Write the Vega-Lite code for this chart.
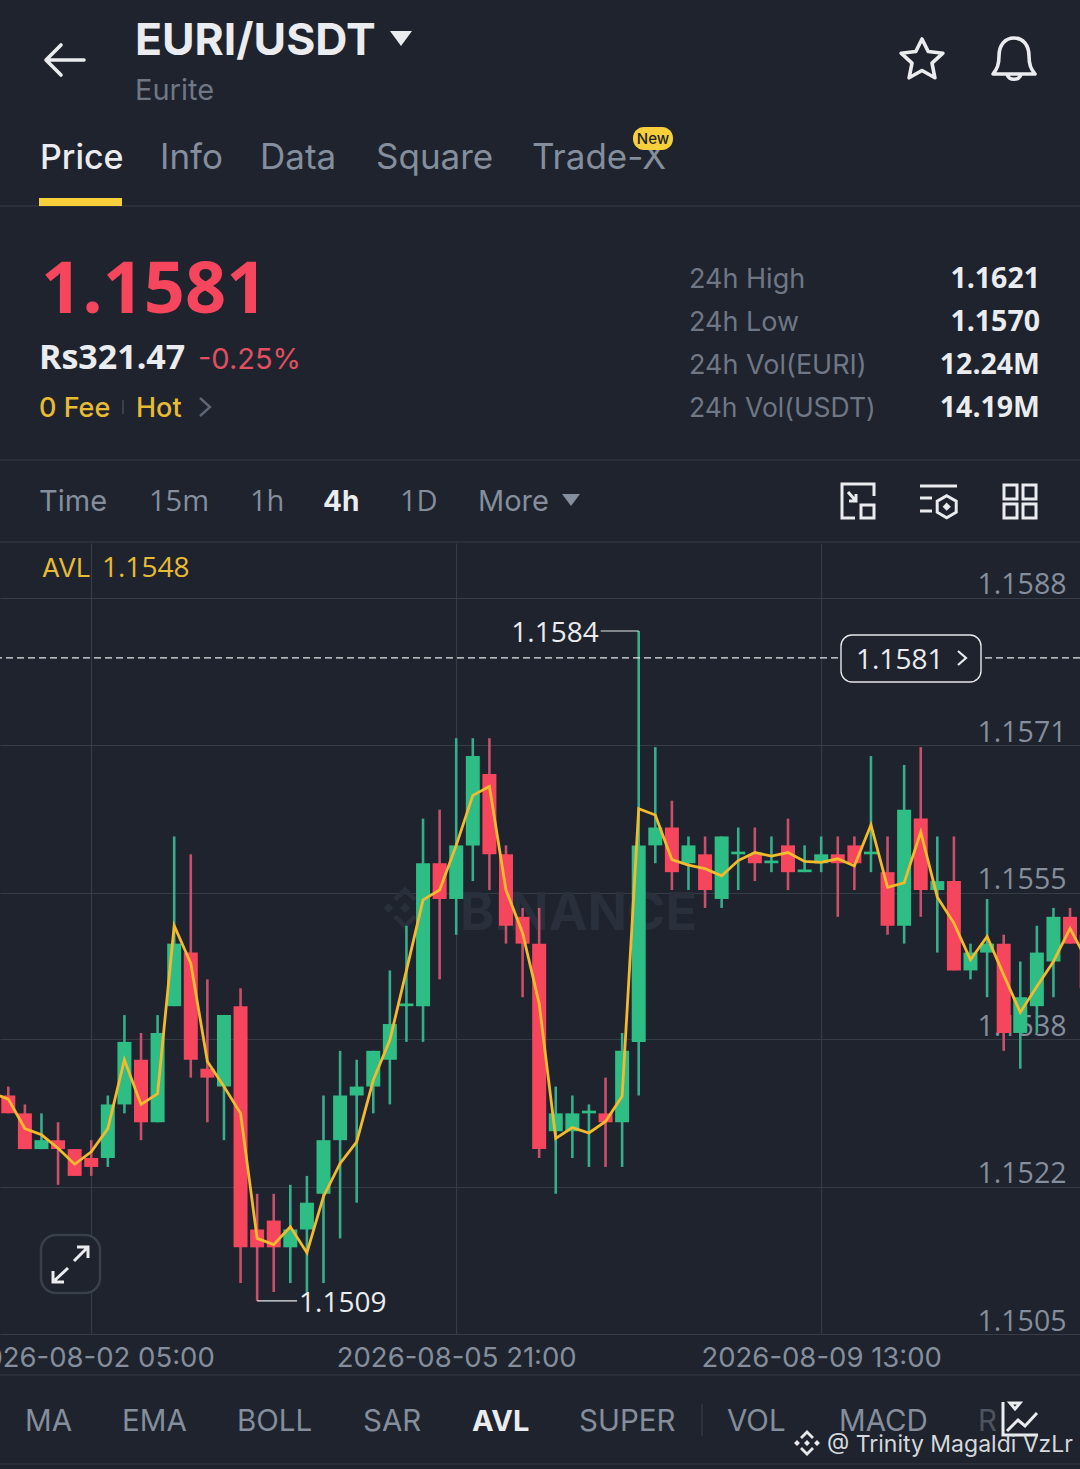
{
"$schema": "https://vega.github.io/schema/vega-lite/v6.json",
"width": 1080,
"height": 791,
"autosize": {"type": "none"},
"padding": {"top": 543, "left": 0, "right": 0, "bottom": 135},
"background": "#1e232d",
"config": {
  "view": {"stroke": null},
  "font": "Inter",
  "text": {"font": "Inter", "baseline": "alphabetic", "align": "left"}
},
"datasets": {
"candles": [
{"t":"2026-08-01T05:00","open":1.1533,"high":1.1534,"low":1.1532,"close":1.1532,"avl":1.15323},
{"t":"2026-08-01T09:00","open":1.1532,"high":1.1533,"low":1.1530,"close":1.1530,"avl":1.15316},
{"t":"2026-08-01T13:00","open":1.1530,"high":1.1531,"low":1.1526,"close":1.1526,"avl":1.15283},
{"t":"2026-08-01T17:00","open":1.1526,"high":1.1530,"low":1.1526,"close":1.1527,"avl":1.15276},
{"t":"2026-08-01T21:00","open":1.1527,"high":1.1529,"low":1.1522,"close":1.1526,"avl":1.15261},
{"t":"2026-08-02T01:00","open":1.1526,"high":1.1526,"low":1.1523,"close":1.1523,"avl":1.15243},
{"t":"2026-08-02T05:00","open":1.1525,"high":1.1527,"low":1.1523,"close":1.1524,"avl":1.15257},
{"t":"2026-08-02T09:00","open":1.1525,"high":1.1532,"low":1.1524,"close":1.1531,"avl":1.15283},
{"t":"2026-08-02T13:00","open":1.1531,"high":1.1541,"low":1.1530,"close":1.1538,"avl":1.15360},
{"t":"2026-08-02T17:00","open":1.1536,"high":1.1539,"low":1.1527,"close":1.1529,"avl":1.15310},
{"t":"2026-08-02T21:00","open":1.1529,"high":1.1541,"low":1.1529,"close":1.1539,"avl":1.15322},
{"t":"2026-08-03T01:00","open":1.1542,"high":1.1561,"low":1.1542,"close":1.1549,"avl":1.15510},
{"t":"2026-08-03T05:00","open":1.1548,"high":1.1559,"low":1.1534,"close":1.1536,"avl":1.15468},
{"t":"2026-08-03T09:00","open":1.1535,"high":1.1545,"low":1.1529,"close":1.1534,"avl":1.15358},
{"t":"2026-08-03T13:00","open":1.1533,"high":1.1541,"low":1.1527,"close":1.1541,"avl":1.15330},
{"t":"2026-08-03T17:00","open":1.1542,"high":1.1544,"low":1.1511,"close":1.1515,"avl":1.15300},
{"t":"2026-08-03T21:00","open":1.1517,"high":1.1521,"low":1.1509,"close":1.1515,"avl":1.15160},
{"t":"2026-08-04T01:00","open":1.1518,"high":1.1521,"low":1.1510,"close":1.1515,"avl":1.15153},
{"t":"2026-08-04T05:00","open":1.1515,"high":1.1522,"low":1.1511,"close":1.1517,"avl":1.15173},
{"t":"2026-08-04T09:00","open":1.1517,"high":1.1523,"low":1.1510,"close":1.1520,"avl":1.15144},
{"t":"2026-08-04T13:00","open":1.1521,"high":1.1532,"low":1.1511,"close":1.1527,"avl":1.15207},
{"t":"2026-08-04T17:00","open":1.1527,"high":1.1537,"low":1.1516,"close":1.1532,"avl":1.15244},
{"t":"2026-08-04T21:00","open":1.1532,"high":1.1536,"low":1.1520,"close":1.1533,"avl":1.15268},
{"t":"2026-08-05T01:00","open":1.1533,"high":1.1537,"low":1.1530,"close":1.1537,"avl":1.15337},
{"t":"2026-08-05T05:00","open":1.1536,"high":1.1546,"low":1.1531,"close":1.1540,"avl":1.15382},
{"t":"2026-08-05T09:00","open":1.1542,"high":1.1551,"low":1.1538,"close":1.15423,"avl":1.15460},
{"t":"2026-08-05T13:00","open":1.1542,"high":1.1563,"low":1.1538,"close":1.1558,"avl":1.15539},
{"t":"2026-08-05T17:00","open":1.1558,"high":1.1564,"low":1.1545,"close":1.1554,"avl":1.15550},
{"t":"2026-08-05T21:00","open":1.1554,"high":1.1572,"low":1.1550,"close":1.1560,"avl":1.15600},
{"t":"2026-08-06T01:00","open":1.1560,"high":1.1572,"low":1.1556,"close":1.1570,"avl":1.15656},
{"t":"2026-08-06T05:00","open":1.1568,"high":1.1572,"low":1.1555,"close":1.1559,"avl":1.15666},
{"t":"2026-08-06T09:00","open":1.1559,"high":1.1560,"low":1.1549,"close":1.1551,"avl":1.15550},
{"t":"2026-08-06T13:00","open":1.1552,"high":1.1553,"low":1.1543,"close":1.1549,"avl":1.15502},
{"t":"2026-08-06T17:00","open":1.1549,"high":1.1553,"low":1.1525,"close":1.1526,"avl":1.15423},
{"t":"2026-08-06T21:00","open":1.1528,"high":1.1533,"low":1.1521,"close":1.1530,"avl":1.15272},
{"t":"2026-08-07T01:00","open":1.1528,"high":1.1532,"low":1.1525,"close":1.1530,"avl":1.15284},
{"t":"2026-08-07T05:00","open":1.1530,"high":1.1531,"low":1.1524,"close":1.15303,"avl":1.15278},
{"t":"2026-08-07T09:00","open":1.1530,"high":1.1534,"low":1.1524,"close":1.1529,"avl":1.15291},
{"t":"2026-08-07T13:00","open":1.1529,"high":1.1539,"low":1.1524,"close":1.1537,"avl":1.15319},
{"t":"2026-08-07T17:00","open":1.1538,"high":1.1584,"low":1.1532,"close":1.1560,"avl":1.15641},
{"t":"2026-08-07T21:00","open":1.1560,"high":1.1571,"low":1.1558,"close":1.1562,"avl":1.15634},
{"t":"2026-08-08T01:00","open":1.1562,"high":1.1565,"low":1.1555,"close":1.1557,"avl":1.15584},
{"t":"2026-08-08T05:00","open":1.1558,"high":1.1561,"low":1.1555,"close":1.1560,"avl":1.15578},
{"t":"2026-08-08T09:00","open":1.1559,"high":1.1561,"low":1.1553,"close":1.1555,"avl":1.15574},
{"t":"2026-08-08T13:00","open":1.1554,"high":1.1561,"low":1.1553,"close":1.1561,"avl":1.15566},
{"t":"2026-08-08T17:00","open":1.1559,"high":1.1562,"low":1.1555,"close":1.15593,"avl":1.15583},
{"t":"2026-08-08T21:00","open":1.1559,"high":1.1562,"low":1.1556,"close":1.1558,"avl":1.15592},
{"t":"2026-08-09T01:00","open":1.1558,"high":1.1561,"low":1.1557,"close":1.15583,"avl":1.15588},
{"t":"2026-08-09T05:00","open":1.1560,"high":1.1563,"low":1.1555,"close":1.1557,"avl":1.15592},
{"t":"2026-08-09T09:00","open":1.1557,"high":1.1560,"low":1.1557,"close":1.15573,"avl":1.15582},
{"t":"2026-08-09T13:00","open":1.1558,"high":1.1561,"low":1.1557,"close":1.1559,"avl":1.15581},
{"t":"2026-08-09T17:00","open":1.1559,"high":1.1561,"low":1.1552,"close":1.1558,"avl":1.15585},
{"t":"2026-08-09T21:00","open":1.1560,"high":1.1561,"low":1.1555,"close":1.1558,"avl":1.15577},
{"t":"2026-08-10T01:00","open":1.1559,"high":1.1570,"low":1.1557,"close":1.15593,"avl":1.15623},
{"t":"2026-08-10T05:00","open":1.1557,"high":1.1561,"low":1.1550,"close":1.1551,"avl":1.15553},
{"t":"2026-08-10T09:00","open":1.1551,"high":1.1569,"low":1.1549,"close":1.1564,"avl":1.15558},
{"t":"2026-08-10T13:00","open":1.1563,"high":1.1571,"low":1.1552,"close":1.1555,"avl":1.15615},
{"t":"2026-08-10T17:00","open":1.1555,"high":1.1561,"low":1.1548,"close":1.1556,"avl":1.15542},
{"t":"2026-08-10T21:00","open":1.1556,"high":1.1561,"low":1.1546,"close":1.1546,"avl":1.15513},
{"t":"2026-08-11T01:00","open":1.1546,"high":1.1549,"low":1.1545,"close":1.1548,"avl":1.15472},
{"t":"2026-08-11T05:00","open":1.1548,"high":1.1554,"low":1.1543,"close":1.1549,"avl":1.15498},
{"t":"2026-08-11T09:00","open":1.1549,"high":1.1550,"low":1.1537,"close":1.1539,"avl":1.15455},
{"t":"2026-08-11T13:00","open":1.1539,"high":1.1547,"low":1.1535,"close":1.1543,"avl":1.15413},
{"t":"2026-08-11T17:00","open":1.1542,"high":1.1551,"low":1.1539,"close":1.1548,"avl":1.15442},
{"t":"2026-08-11T21:00","open":1.1547,"high":1.1553,"low":1.1543,"close":1.1552,"avl":1.15470},
{"t":"2026-08-12T01:00","open":1.1552,"high":1.1553,"low":1.1549,"close":1.1549,"avl":1.15507},
{"t":"2026-08-12T05:00","open":1.1550,"high":1.1551,"low":1.1544,"close":1.1544,"avl":1.15472}
],
"marks": [
{"t":"2026-08-07T17:00","t2":"2026-08-07T07:50","price":1.1584,"label":"1.1584"},
{"t":"2026-08-03T21:00","t2":"2026-08-04T06:38","price":1.1509,"label":"1.1509"}
]
},
"data": {"name": "candles"},
"layer": [
{"data":{"values":[{"label":"BINANCE"}]},"mark":{"type":"text","x":460,"y":387,"fontSize":52,"fontWeight":700,"color":"#2a303b"},"encoding":{"text":{"field":"label"}}},
{"data":{"values":[{"icon":"logo"}]},"mark":{"type":"point","x":405,"y":365,"size":11,"filled":true,"fill":"#2a303b","opacity":1,"strokeWidth":0,"shape":"M0,-3L3,0L0,3L-3,0ZM-7,-6L0,-13L7,-6L5,-4L0,-9L-5,-4ZM-7,6L0,13L7,6L5,4L0,9L-5,4ZM-13,0L-10,-3L-7,0L-10,3ZM13,0L10,-3L7,0L10,3Z"},"encoding":{}},
{
  "mark": {"type": "rule", "strokeWidth": 2.6},
  "encoding": {
    "x": {"field": "t", "type": "temporal", "title": null,
      "scale": {"domain": [{"year":2026,"month":8,"date":1,"hours":7},{"year":2026,"month":8,"date":12,"hours":3,"minutes":24}], "nice": false, "padding": 0},
      "axis": {
        "values": [{"year":2026,"month":8,"date":2,"hours":5},{"year":2026,"month":8,"date":5,"hours":21},{"year":2026,"month":8,"date":9,"hours":13}],
        "format": "%Y-%m-%d %H:%M", "grid": true, "gridColor": "#363c46", "gridWidth": 1.2, "domain": false, "ticks": false,
        "labelColor": "#848e9c", "labelFontSize": 27.5, "labelFont": "Inter", "labelPadding": 10, "labelLimit": 400, "labelBound": false, "labelFlush": false, "labelOverlap": false
      }
    },
    "y": {"field": "low", "type": "quantitative", "title": null,
      "scale": {"domain": [1.15053, 1.159385], "nice": false, "zero": false, "padding": 0},
      "axis": {
        "orient": "right", "values": [1.15053, 1.15218, 1.15383, 1.15547, 1.15712, 1.15877], "format": ".4f",
        "grid": true, "gridColor": "#363c46", "gridWidth": 1.2, "domain": false, "ticks": false,
        "labelColor": "#848e9c", "labelFontSize": 28.5, "labelFont": "Open Sans", "labelAlign": "right", "labelPadding": -14, "labelOffset": -13, "labelBound": false, "labelFlush": false, "labelOverlap": false
      }
    },
    "y2": {"field": "high"},
    "color": {"condition": {"test": "datum.close >= datum.open", "value": "#37ad8b"}, "value": "#c9506a"}
  }
},
{
  "mark": {"type": "bar", "size": 14},
  "encoding": {
    "x": {"field": "t", "type": "temporal"},
    "y": {"field": "open", "type": "quantitative"},
    "y2": {"field": "close"},
    "color": {"condition": {"test": "datum.close >= datum.open", "value": "#2ebd85"}, "value": "#f6465d"}
  }
},
{
  "mark": {"type": "line", "color": "#f2ba2c", "strokeWidth": 2.8, "strokeJoin": "miter"},
  "encoding": {
    "x": {"field": "t", "type": "temporal"},
    "y": {"field": "avl", "type": "quantitative"}
  }
},
{"data":{"values":[{"price":1.1581}]},"mark":{"type":"rule","color":"#e6e8ea","strokeWidth":1.2,"strokeDash":[7,4]},"encoding":{"y":{"field":"price","type":"quantitative"}}},
{"data":{"name":"marks"},"mark":{"type":"rule","color":"#e6e8ea","strokeWidth":1.2},"encoding":{"x":{"field":"t","type":"temporal"},"x2":{"field":"t2"},"y":{"field":"price","type":"quantitative"}}},
{"data":{"name":"marks"},"transform":[{"filter":"datum.price > 1.155"}],"mark":{"type":"text","font":"Open Sans","align":"right","baseline":"middle","fontSize":28,"color":"#eaecef","dx":-2,"dy":3},"encoding":{"x":{"field":"t2","type":"temporal"},"y":{"field":"price","type":"quantitative"},"text":{"field":"label"}}},
{"data":{"name":"marks"},"transform":[{"filter":"datum.price < 1.155"}],"mark":{"type":"text","font":"Open Sans","align":"left","baseline":"middle","fontSize":28,"color":"#eaecef","dx":2,"dy":3},"encoding":{"x":{"field":"t2","type":"temporal"},"y":{"field":"price","type":"quantitative"},"text":{"field":"label"}}},
{"data":{"values":[{"kind":"pill"}]},"mark":{"type":"rect","x":841,"x2":981,"y":92,"y2":139,"fill":"#1e232d","stroke":"#e6e8ea","strokeWidth":1.4,"cornerRadius":11},"encoding":{}},
{"data":{"values":[{"label":"1.1581"}]},"mark":{"type":"text","font":"Open Sans","x":856,"y":126,"fontSize":28,"color":"#eaecef"},"encoding":{"text":{"field":"label"}}},
{"data":{"values":[{"icon":"chevron"}]},"mark":{"type":"point","x":962,"y":115,"size":4,"filled":false,"stroke":"#eaecef","strokeWidth":2.2,"opacity":1,"shape":"M-4,-7L4,0L-4,7"},"encoding":{}},
{"data":{"values":[{"label":"AVL"}]},"mark":{"type":"text","x":42,"y":34,"fontSize":26,"color":"#e8bb34"},"encoding":{"text":{"field":"label"}}},
{"data":{"values":[{"label":"1.1548"}]},"mark":{"type":"text","font":"Open Sans","x":102,"y":34,"fontSize":28,"color":"#e8bb34"},"encoding":{"text":{"field":"label"}}},
{"data":{"values":[{"kind":"expand"}]},"mark":{"type":"rect","x":41,"x2":100,"y":692,"y2":750,"fill":"#1e232d","stroke":"#3a404b","strokeWidth":2.5,"cornerRadius":15},"encoding":{}},
{"data":{"values":[{"icon":"expand"}]},"mark":{"type":"point","x":71,"y":721,"size":4,"filled":false,"stroke":"#eaecef","strokeWidth":3,"opacity":1,"shape":"M17,-17L3,-3M6,-17H17V-6M-3,4L-18,18M-18,7V18H-7"},"encoding":{}},

{"data":{"values":[{"s":"top"}]},"mark":{"type":"rule","color":"#2f353f","strokeWidth":1.5},"encoding":{"y":{"value":-337}}},
{"data":{"values":[{"s":"stats"}]},"mark":{"type":"rule","color":"#2f353f","strokeWidth":1.5},"encoding":{"y":{"value":-83}}},
{"data":{"values":[{"s":"times"}]},"mark":{"type":"rule","color":"#2f353f","strokeWidth":1.5},"encoding":{"y":{"value":-1}}},
{"data":{"values":[{"s":"axis"}]},"mark":{"type":"rule","color":"#2f353f","strokeWidth":1.5},"encoding":{"y":{"value":832}}},
{"data":{"values":[{"s":"end"}]},"mark":{"type":"rule","color":"#2f353f","strokeWidth":1.5},"encoding":{"y":{"value":921}}},

{"data":{"values":[{"icon":"back"}]},"mark":{"type":"point","x":65,"y":-483,"size":4,"filled":false,"stroke":"#eaecef","strokeWidth":3.6,"opacity":1,"strokeCap":"round","shape":"M-19,0H19M-19,0L-4,-15M-19,0L-4,15"},"encoding":{}},
{"data":{"values":[{"label":"EURI/USDT"}]},"mark":{"type":"text","x":135,"y":-488,"fontSize":44.5,"fontWeight":700,"color":"#eaecef"},"encoding":{"text":{"field":"label"}}},
{"data":{"values":[{"icon":"caret"}]},"mark":{"type":"point","x":401,"y":-505,"size":4,"filled":true,"fill":"#eaecef","opacity":1,"shape":"M-11,-7H11L0,8Z"},"encoding":{}},
{"data":{"values":[{"label":"Eurite"}]},"mark":{"type":"text","x":135,"y":-443,"fontSize":29,"color":"#6f7785"},"encoding":{"text":{"field":"label"}}},
{"data":{"values":[{"icon":"star"}]},"mark":{"type":"point","x":922,"y":-483,"size":4,"filled":false,"stroke":"#eaecef","strokeWidth":3.6,"opacity":1,"strokeJoin":"round","shape":"M0,-21L6.2,-8.5L20.9,-6.8L10,3.2L12.9,17.8L0,10.5L-12.9,17.8L-10,3.2L-20.9,-6.8L-6.2,-8.5Z"},"encoding":{}},
{"data":{"values":[{"icon":"bell"}]},"mark":{"type":"point","x":1014,"y":-484,"size":4,"filled":false,"stroke":"#eaecef","strokeWidth":3.6,"opacity":1,"strokeJoin":"round","shape":"M-21,15C-17,10-15,6-15,-3C-15,-14-9,-21 0,-21C9,-21 15,-14 15,-3C15,6 17,10 21,15ZM-7,15C-6,22 6,22 7,15"},"encoding":{}},

{"data":{"values":[{"label":"Price"}]},"mark":{"type":"text","x":40,"y":-374,"fontSize":34,"fontWeight":500,"color":"#eaecef"},"encoding":{"text":{"field":"label"}}},
{"data":{"values":[{"label":"Info"}]},"mark":{"type":"text","x":160,"y":-374,"fontSize":35,"color":"#848e9c"},"encoding":{"text":{"field":"label"}}},
{"data":{"values":[{"label":"Data"}]},"mark":{"type":"text","x":260,"y":-374,"fontSize":35,"color":"#848e9c"},"encoding":{"text":{"field":"label"}}},
{"data":{"values":[{"label":"Square"}]},"mark":{"type":"text","x":376,"y":-374,"fontSize":35,"color":"#848e9c"},"encoding":{"text":{"field":"label"}}},
{"data":{"values":[{"label":"Trade-X"}]},"mark":{"type":"text","x":532,"y":-374,"fontSize":35,"color":"#848e9c"},"encoding":{"text":{"field":"label"}}},
{"data":{"values":[{"kind":"badge"}]},"mark":{"type":"rect","x":633,"x2":673,"y":-416,"y2":-393,"fill":"#f6cf3a","cornerRadius":11},"encoding":{}},
{"data":{"values":[{"label":"New"}]},"mark":{"type":"text","x":653,"y":-399,"align":"center","fontSize":15,"fontWeight":500,"color":"#1e2329"},"encoding":{"text":{"field":"label"}}},
{"data":{"values":[{"kind":"tab"}]},"mark":{"type":"rect","x":39,"x2":122,"y":-345,"y2":-337,"fill":"#f6cf3a"},"encoding":{}},

{"data":{"values":[{"label":"1.1581"}]},"mark":{"type":"text","font":"Open Sans","x":41,"y":-230,"fontSize":72,"fontWeight":700,"color":"#f6465d"},"encoding":{"text":{"field":"label"}}},
{"data":{"values":[{"label":"Rs321.47"}]},"mark":{"type":"text","font":"Open Sans","x":39,"y":-174,"fontSize":34,"fontWeight":700,"color":"#eaecef"},"encoding":{"text":{"field":"label"}}},
{"data":{"values":[{"label":"-0.25%"}]},"mark":{"type":"text","x":198,"y":-174,"fontSize":29,"color":"#e04f62"},"encoding":{"text":{"field":"label"}}},
{"data":{"values":[{"label":"0 Fee"}]},"mark":{"type":"text","x":39,"y":-126,"fontSize":27,"fontWeight":500,"color":"#e8bb34"},"encoding":{"text":{"field":"label"}}},
{"data":{"values":[{"s":"fee"}]},"mark":{"type":"rule","color":"#3a404b","strokeWidth":2},"encoding":{"x":{"value":123},"y":{"value":-143},"y2":{"value":-129}}},
{"data":{"values":[{"label":"Hot"}]},"mark":{"type":"text","x":136,"y":-126,"fontSize":27,"fontWeight":500,"color":"#e8bb34"},"encoding":{"text":{"field":"label"}}},
{"data":{"values":[{"icon":"chevron"}]},"mark":{"type":"point","x":205,"y":-136,"size":4,"filled":false,"stroke":"#5e6673","strokeWidth":2.4,"opacity":1,"shape":"M-5,-9L5,0L-5,9"},"encoding":{}},

{"data":{"values":[{"label":"24h High"}]},"mark":{"type":"text","x":689,"y":-255,"fontSize":27,"color":"#6f7785"},"encoding":{"text":{"field":"label"}}},
{"data":{"values":[{"label":"24h Low"}]},"mark":{"type":"text","x":689,"y":-212,"fontSize":27,"color":"#6f7785"},"encoding":{"text":{"field":"label"}}},
{"data":{"values":[{"label":"24h Vol(EURI)"}]},"mark":{"type":"text","x":689,"y":-169,"fontSize":27,"color":"#6f7785"},"encoding":{"text":{"field":"label"}}},
{"data":{"values":[{"label":"24h Vol(USDT)"}]},"mark":{"type":"text","x":689,"y":-126,"fontSize":26.5,"color":"#6f7785"},"encoding":{"text":{"field":"label"}}},
{"data":{"values":[{"label":"1.1621"}]},"mark":{"type":"text","font":"Open Sans","x":1040,"y":-255,"align":"right","fontSize":28.5,"fontWeight":700,"color":"#eaecef"},"encoding":{"text":{"field":"label"}}},
{"data":{"values":[{"label":"1.1570"}]},"mark":{"type":"text","font":"Open Sans","x":1040,"y":-212,"align":"right","fontSize":28.5,"fontWeight":700,"color":"#eaecef"},"encoding":{"text":{"field":"label"}}},
{"data":{"values":[{"label":"12.24M"}]},"mark":{"type":"text","font":"Open Sans","x":1040,"y":-169,"align":"right","fontSize":28.5,"fontWeight":700,"color":"#eaecef"},"encoding":{"text":{"field":"label"}}},
{"data":{"values":[{"label":"14.19M"}]},"mark":{"type":"text","font":"Open Sans","x":1040,"y":-126,"align":"right","fontSize":28.5,"fontWeight":700,"color":"#eaecef"},"encoding":{"text":{"field":"label"}}},

{"data":{"values":[{"label":"Time"}]},"mark":{"type":"text","x":39,"y":-32,"fontSize":29,"color":"#848e9c"},"encoding":{"text":{"field":"label"}}},
{"data":{"values":[{"label":"15m"}]},"mark":{"type":"text","font":"Open Sans","x":149,"y":-32,"fontSize":29,"color":"#848e9c"},"encoding":{"text":{"field":"label"}}},
{"data":{"values":[{"label":"1h"}]},"mark":{"type":"text","font":"Open Sans","x":250,"y":-32,"fontSize":29,"color":"#848e9c"},"encoding":{"text":{"field":"label"}}},
{"data":{"values":[{"label":"4h"}]},"mark":{"type":"text","x":323,"y":-32,"fontSize":28,"fontWeight":700,"color":"#eaecef"},"encoding":{"text":{"field":"label"}}},
{"data":{"values":[{"label":"1D"}]},"mark":{"type":"text","font":"Open Sans","x":400,"y":-32,"fontSize":29,"color":"#848e9c"},"encoding":{"text":{"field":"label"}}},
{"data":{"values":[{"label":"More"}]},"mark":{"type":"text","x":478,"y":-32,"fontSize":29,"color":"#848e9c"},"encoding":{"text":{"field":"label"}}},
{"data":{"values":[{"icon":"caret"}]},"mark":{"type":"point","x":571,"y":-43,"size":4,"filled":true,"fill":"#848e9c","opacity":1,"shape":"M-9,-6H9L0,6Z"},"encoding":{}},
{"data":{"values":[{"icon":"resize"}]},"mark":{"type":"point","x":858,"y":-42,"size":4,"filled":false,"stroke":"#eaecef","strokeWidth":3,"opacity":1,"shape":"M-3,17H-16V-17H16V-5M3,4H16V17H3ZM-10,-9L-2,0M-2,-7V0H-9"},"encoding":{}},
{"data":{"values":[{"icon":"settings"}]},"mark":{"type":"point","x":938,"y":-42,"size":4,"filled":false,"stroke":"#eaecef","strokeWidth":3,"opacity":1,"shape":"M-18,-15H19M-18,-3H-6M-18,10H-6M8.7,-5.3L18.2,0.2V11.2L8.7,16.7L-0.8,11.2V0.2ZM8.7,3.7L10.7,5.7L8.7,7.7L6.7,5.7Z"},"encoding":{}},
{"data":{"values":[{"icon":"grid"}]},"mark":{"type":"point","x":1020,"y":-42,"size":4,"filled":false,"stroke":"#eaecef","strokeWidth":3,"opacity":1,"shape":"M-16,-16H-3V-2H-16ZM3,-16H16V-2H3ZM-16,3H-3V17H-16ZM3,3H16V17H3Z"},"encoding":{}},

{"data":{"values":[{"label":"MA"}]},"mark":{"type":"text","x":25,"y":888,"fontSize":29.5,"color":"#848e9c"},"encoding":{"text":{"field":"label"}}},
{"data":{"values":[{"label":"EMA"}]},"mark":{"type":"text","x":122,"y":888,"fontSize":29.5,"color":"#848e9c"},"encoding":{"text":{"field":"label"}}},
{"data":{"values":[{"label":"BOLL"}]},"mark":{"type":"text","x":237,"y":888,"fontSize":29.5,"color":"#848e9c"},"encoding":{"text":{"field":"label"}}},
{"data":{"values":[{"label":"SAR"}]},"mark":{"type":"text","x":363,"y":888,"fontSize":29.5,"color":"#848e9c"},"encoding":{"text":{"field":"label"}}},
{"data":{"values":[{"label":"AVL"}]},"mark":{"type":"text","x":472,"y":888,"fontSize":29,"fontWeight":700,"color":"#eaecef"},"encoding":{"text":{"field":"label"}}},
{"data":{"values":[{"label":"SUPER"}]},"mark":{"type":"text","x":579,"y":888,"fontSize":29.5,"color":"#848e9c"},"encoding":{"text":{"field":"label"}}},
{"data":{"values":[{"s":"tabs"}]},"mark":{"type":"rule","color":"#333a44","strokeWidth":1.5},"encoding":{"x":{"value":702},"y":{"value":861},"y2":{"value":893}}},
{"data":{"values":[{"label":"VOL"}]},"mark":{"type":"text","x":727,"y":888,"fontSize":29.5,"color":"#848e9c"},"encoding":{"text":{"field":"label"}}},
{"data":{"values":[{"label":"MACD"}]},"mark":{"type":"text","x":839,"y":888,"fontSize":29.5,"color":"#848e9c"},"encoding":{"text":{"field":"label"}}},
{"data":{"values":[{"label":"R"}]},"mark":{"type":"text","x":978,"y":888,"fontSize":29.5,"color":"#4d5460"},"encoding":{"text":{"field":"label"}}},
{"data":{"values":[{"icon":"chart"}]},"mark":{"type":"point","x":1020,"y":877,"size":4,"filled":false,"stroke":"#eaecef","strokeWidth":3,"opacity":1,"shape":"M-17,-18V15H18M-13,11L-2,0L5,6L17,-7M-10,-17H0L-5,-11Z"},"encoding":{}},
{"data":{"values":[{"icon":"logo"}]},"mark":{"type":"point","x":807,"y":900,"size":4,"filled":true,"fill":"#e6e8ea","opacity":1,"strokeWidth":0,"shape":"M0,-3L3,0L0,3L-3,0ZM-7,-6L0,-13L7,-6L5,-4L0,-9L-5,-4ZM-7,6L0,13L7,6L5,4L0,9L-5,4ZM-13,0L-10,-3L-7,0L-10,3ZM13,0L10,-3L7,0L10,3Z"},"encoding":{}},
{"data":{"values":[{"label":"@ Trinity Magaldi VzLr"}]},"mark":{"type":"text","x":827,"y":909,"fontSize":23,"color":"#d5d8dc"},"encoding":{"text":{"field":"label"}}}
]
}
